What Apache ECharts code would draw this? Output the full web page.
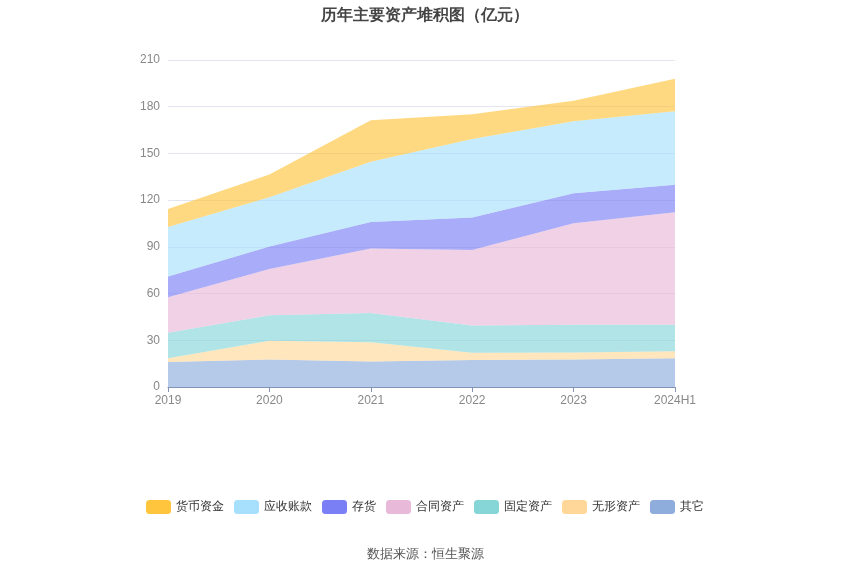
<!DOCTYPE html>
<html>
<head>
<meta charset="utf-8">
<script src="https://cdn.jsdelivr.net/npm/echarts@6/dist/echarts.min.js"></script>
<style>
    html, body { margin: 0; padding: 0; background: #fff; }
    #main { width: 850px; height: 575px; }
</style>
</head>
<body>
<div id="main"></div>
<script>
    // 年份
    var years = ['2019', '2020', '2021', '2022', '2023', '2024H1'];
    // 各项资产（亿元），从底部往上堆
    var qita = [16.0, 17.7, 16.4, 17.3, 17.7, 18.4];       // 其它
    var wuxing = [2.4, 12.0, 12.4, 4.7, 4.5, 4.5];         // 无形资产
    var guding = [16.4, 16.4, 18.8, 17.5, 17.7, 17.0];     // 固定资产
    var hetong = [22.9, 29.7, 41.3, 48.5, 65.2, 72.3];     // 合同资产
    var cunhuo = [13.2, 14.4, 17.1, 20.9, 19.4, 17.7];     // 存货
    var yingshou = [31.9, 31.6, 38.6, 50.3, 46.2, 47.2];   // 应收账款
    var huobi = [11.5, 14.7, 26.7, 16.0, 13.2, 20.9];      // 货币资金
    var legendNames = ['货币资金', '应收账款', '存货', '合同资产', '固定资产', '无形资产', '其它'];

    function areaSeries(name, data, color) {
        return {
            name: name,
            type: 'line',
            stack: 'total',
            data: data,
            symbol: 'none',
            lineStyle: { width: 0 },
            itemStyle: { color: color },
            areaStyle: { color: color, opacity: 0.65 },
            emphasis: { disabled: true }
        };
    }

    var myChart = echarts.init(document.getElementById('main'));
    var option = {
        title: {
            text: '历年主要资产堆积图（亿元）',
            left: 'center',
            top: 3,
            textStyle: { fontSize: 16, fontWeight: 'bold', color: '#444' }
        },
        legend: {
            data: legendNames,
            bottom: 56,
            itemWidth: 25,
            itemHeight: 14,
            itemGap: 10,
            icon: 'roundRect',
            textStyle: { color: '#333', fontSize: 12 }
        },
        graphic: [{
            type: 'text',
            left: 'center',
            top: 548,
            style: { text: '数据来源：恒生聚源', fill: '#555', fontSize: 13 }
        }],
        grid: {
            left: 168,
            right: 175,
            top: 60,
            bottom: 188
        },
        xAxis: {
            type: 'category',
            boundaryGap: false,
            data: years,
            axisLine: { lineStyle: { color: '#8392b5' } },
            axisTick: { lineStyle: { color: '#8392b5' } },
            axisLabel: { color: '#888', fontSize: 12 }
        },
        yAxis: {
            type: 'value',
            min: 0,
            max: 210,
            interval: 30,
            axisLabel: { color: '#888', fontSize: 12 },
            splitLine: { lineStyle: { color: '#e3e6f0' } }
        },
        series: [
            areaSeries('其它', qita, '#8eacdc'),
            areaSeries('无形资产', wuxing, '#ffd899'),
            areaSeries('固定资产', guding, '#86d6d8'),
            areaSeries('合同资产', hetong, '#e8b9d9'),
            areaSeries('存货', cunhuo, '#7b7ff5'),
            areaSeries('应收账款', yingshou, '#a6e0fc'),
            areaSeries('货币资金', huobi, '#ffc53d')
        ]
    };
    myChart.setOption(option, true);
</script>
</body>
</html>
